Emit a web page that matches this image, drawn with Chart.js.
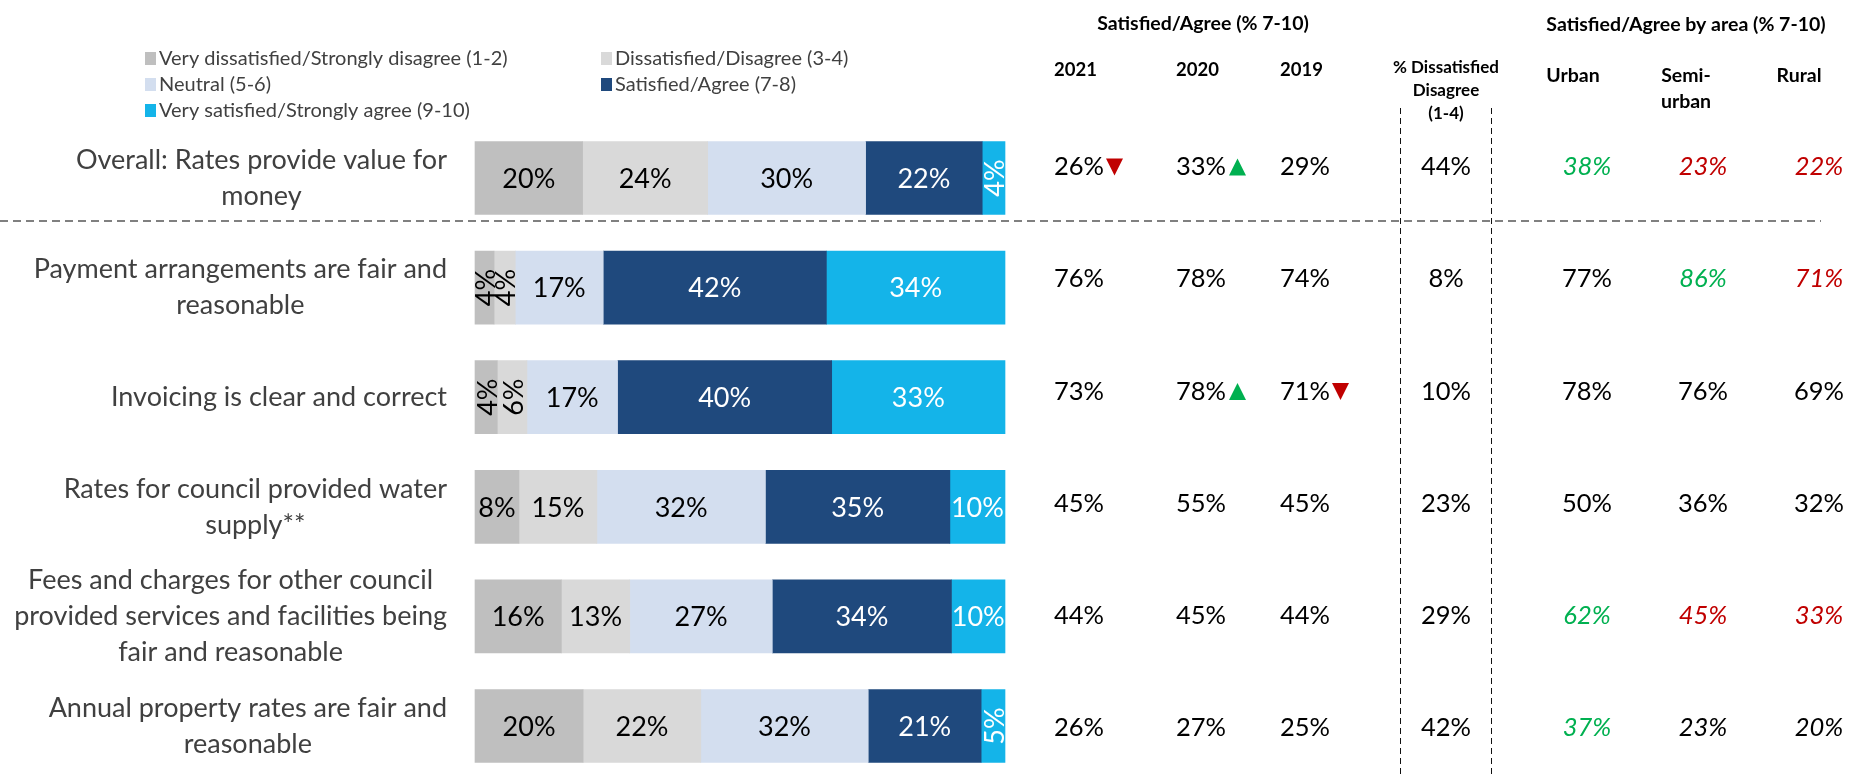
<!DOCTYPE html>
<html><head><meta charset="utf-8">
<script src="https://cdn.jsdelivr.net/npm/chart.js@4.4.1/dist/chart.umd.min.js"></script>
<style>html,body{margin:0;padding:0;background:#fff;}#wrap{position:relative;width:1850px;height:775px;}</style>
</head><body><div id="wrap"><canvas id="c" width="1850" height="775"></canvas></div>
<script>
// ---------- data ----------
const categories = [
  ['Overall: Rates provide value for','money'],
  ['Payment arrangements are fair and','reasonable'],
  ['Invoicing is clear and correct'],
  ['Rates for council provided water','supply**'],
  ['Fees and charges for other council','provided services and facilities being','fair and reasonable'],
  ['Annual property rates are fair and','reasonable']
];
const seriesNames = ['Very dissatisfied/Strongly disagree (1-2)','Dissatisfied/Disagree (3-4)','Neutral (5-6)','Satisfied/Agree (7-8)','Very satisfied/Strongly agree (9-10)'];
const veryDissatisfied = [20.3, 3.6, 4.2, 8.3, 16.3, 20.4];
const dissatisfied     = [23.6, 4.0, 5.6, 14.7, 12.9, 22.2];
const neutral          = [29.8, 16.6, 17.1, 31.8, 26.9, 31.6];
const satisfied        = [22.0, 42.1, 40.4, 34.8, 33.8, 21.3];
const verySatisfied    = [4.3, 33.7, 32.7, 10.4, 10.1, 4.5];

const tableHeads = ['2021','2020','2019'];
const sat2021 = [26, 76, 73, 45, 44, 26];
const sat2020 = [33, 78, 78, 55, 45, 27];
const sat2019 = [29, 74, 71, 45, 44, 25];
const trend2021 = ['down','','','','',''];
const trend2020 = ['up','','up','','',''];
const trend2019 = ['','','down','','',''];
const dissatTotal = [44, 8, 10, 23, 29, 42];
const areaHeads = [['Urban'],['Semi-','urban'],['Rural']];
const urban = [38, 77, 78, 50, 62, 37];
const semiUrban = [23, 86, 76, 36, 45, 23];
const rural = [22, 71, 69, 32, 33, 20];
// g = significantly higher (green italic), r = lower (red italic), i = italic, n = normal
const urbanFlag = ['g','n','n','n','g','g'];
const semiFlag  = ['r','g','n','n','r','i'];
const ruralFlag = ['r','r','n','n','r','i'];

// ---------- style ----------
const colors = ['#BFBFBF','#D9D9D9','#D3DEEF','#1F497D','#14B4E9'];
const labelColors = ['#000','#000','#000','#fff','#fff'];
const FONT = 'Lato, "Open Sans", sans-serif';

const seriesData = [veryDissatisfied, dissatisfied, neutral, satisfied, verySatisfied];

function tri(ctx, x, yc, up, color){
  const w = 17, h = 17;
  ctx.save(); ctx.fillStyle = color; ctx.beginPath();
  if (up){ ctx.moveTo(x, yc + h/2); ctx.lineTo(x + w, yc + h/2); ctx.lineTo(x + w/2, yc - h/2); }
  else { ctx.moveTo(x, yc - h/2); ctx.lineTo(x + w, yc - h/2); ctx.lineTo(x + w/2, yc + h/2); }
  ctx.closePath(); ctx.fill(); ctx.restore();
}

const overlay = {
  id: 'overlay',
  afterDatasetsDraw(chart){
    const ctx = chart.ctx;
    chart.data.datasets.forEach((ds, di) => {
      const meta = chart.getDatasetMeta(di);
      meta.data.forEach((bar, i) => {
        const v = ds.data[i];
        const x0 = Math.min(bar.x, bar.base), x1 = Math.max(bar.x, bar.base);
        const w = x1 - x0, cx = (x0 + x1) / 2, cy = bar.y;
        const txt = Math.round(v) + '%';
        ctx.save();
        ctx.font = '27px ' + FONT; ctx.fillStyle = labelColors[di];
        ctx.textAlign = 'center'; ctx.textBaseline = 'middle';
        if (w < 34){ ctx.translate(cx + 1, cy); ctx.rotate(-Math.PI/2); ctx.fillText(txt, 0, 1); }
        else ctx.fillText(txt, cx, cy + 1);
        ctx.restore();
      });
    });
  },
  afterDraw(chart){
    const ctx = chart.ctx, ys = chart.scales.y;
    ctx.save();
    // row labels
    ctx.font = '27px ' + FONT; ctx.fillStyle = '#404040'; ctx.textAlign = 'center'; ctx.textBaseline = 'middle';
    const rightEdge = 447, lh = 36;
    chart.data.labels.forEach((lines, i) => {
      const yc = ys.getPixelForValue(i);
      const mw = Math.max(...lines.map(l => ctx.measureText(l).width));
      const cx = rightEdge - mw / 2;
      lines.forEach((l, k) => ctx.fillText(l, cx, yc + (k - (lines.length - 1) / 2) * lh));
    });

    // legend
    ctx.font = '20px ' + FONT; ctx.textAlign = 'left';
    const legPos = [[145,58],[601,58],[145,84],[601,84],[145,110]];
    chart.data.datasets.forEach((ds, di) => {
      const [lx, ly] = legPos[di];
      ctx.fillStyle = ds.backgroundColor; ctx.fillRect(lx, ly - 6, 11, 13);
      ctx.fillStyle = '#404040'; ctx.fillText(ds.label, lx + 14, ly + 1);
    });

    // headers
    ctx.fillStyle = '#000'; ctx.font = 'bold 19.5px ' + FONT; ctx.textAlign = 'center';
    ctx.fillText('Satisfied/Agree (% 7-10)', 1203, 24);
    ctx.fillText('Satisfied/Agree by area (% 7-10)', 1686, 25);
    ctx.font = 'bold 18.5px ' + FONT; ctx.textAlign = 'left';
    const yearX = [1054, 1176, 1280];
    tableHeads.forEach((h, k) => ctx.fillText(h, yearX[k], 70));
    ctx.font = 'bold 19.5px ' + FONT; ctx.textAlign = 'center';
    const areaX = [1573, 1686, 1799];
    areaHeads.forEach((lines, k) => lines.forEach((l, j) => ctx.fillText(l, areaX[k], 76 + j * 26)));
    ctx.font = 'bold 17px ' + FONT;
    ['% Dissatisfied','Disagree','(1-4)'].forEach((l, j) => ctx.fillText(l, 1446, 68 + j * 23));

    // table values
    const yearCols = [[sat2021, trend2021],[sat2020, trend2020],[sat2019, trend2019]];
    const areaCols = [[urban, urbanFlag, 1587],[semiUrban, semiFlag, 1703],[rural, ruralFlag, 1819]];
    chart.data.labels.forEach((_, i) => {
      const yc = ys.getPixelForValue(i) - 11 + i * 2.6;
      ctx.font = '25.5px ' + FONT; ctx.fillStyle = '#000'; ctx.textAlign = 'left';
      yearCols.forEach(([vals, tr], k) => {
        const t = vals[i] + '%';
        ctx.fillText(t, yearX[k], yc);
        const w = ctx.measureText(t).width;
        if (tr[i] === 'up') tri(ctx, yearX[k] + w + 3, yc, true, '#00B050');
        if (tr[i] === 'down') tri(ctx, yearX[k] + w + 2, yc, false, '#C00000');
      });
      ctx.textAlign = 'center'; ctx.fillStyle = '#000';
      ctx.fillText(dissatTotal[i] + '%', 1446, yc);
      areaCols.forEach(([vals, flags, x]) => {
        const f = flags[i];
        ctx.font = (f === 'n' ? '' : 'italic ') + '25.5px ' + FONT;
        ctx.fillStyle = f === 'g' ? '#00B050' : (f === 'r' ? '#C00000' : '#000');
        ctx.fillText(vals[i] + '%', x, yc);
      });
    });

    // dashed separators
    ctx.strokeStyle = '#808080'; ctx.lineWidth = 2; ctx.setLineDash([8, 5]);
    const sepY = ys.getPixelForValue(0) + 43;
    ctx.beginPath(); ctx.moveTo(0, sepY); ctx.lineTo(1821, sepY); ctx.stroke();
    ctx.strokeStyle = '#111'; ctx.lineWidth = 1; ctx.setLineDash([6, 4]);
    [1400.5, 1491.5].forEach(x => { ctx.beginPath(); ctx.moveTo(x, 108); ctx.lineTo(x, 775); ctx.stroke(); });
    ctx.restore();
  }
};

new Chart(document.getElementById('c'), {
  type: 'bar',
  data: {
    labels: categories,
    datasets: seriesData.map((d, k) => ({
      label: seriesNames[k], data: d, backgroundColor: colors[k],
      borderWidth: 0, barThickness: 73, clip: false
    }))
  },
  options: {
    indexAxis: 'y', responsive: false, animation: false, devicePixelRatio: 1,
    layout: { padding: { left: 475, right: 845, top: 178, bottom: 49 } },
    plugins: { legend: { display: false }, tooltip: { enabled: false } },
    scales: {
      x: { stacked: true, min: 0, max: 100, display: false },
      y: { stacked: true, offset: false, display: false }
    }
  },
  plugins: [overlay]
});
</script></body></html>
